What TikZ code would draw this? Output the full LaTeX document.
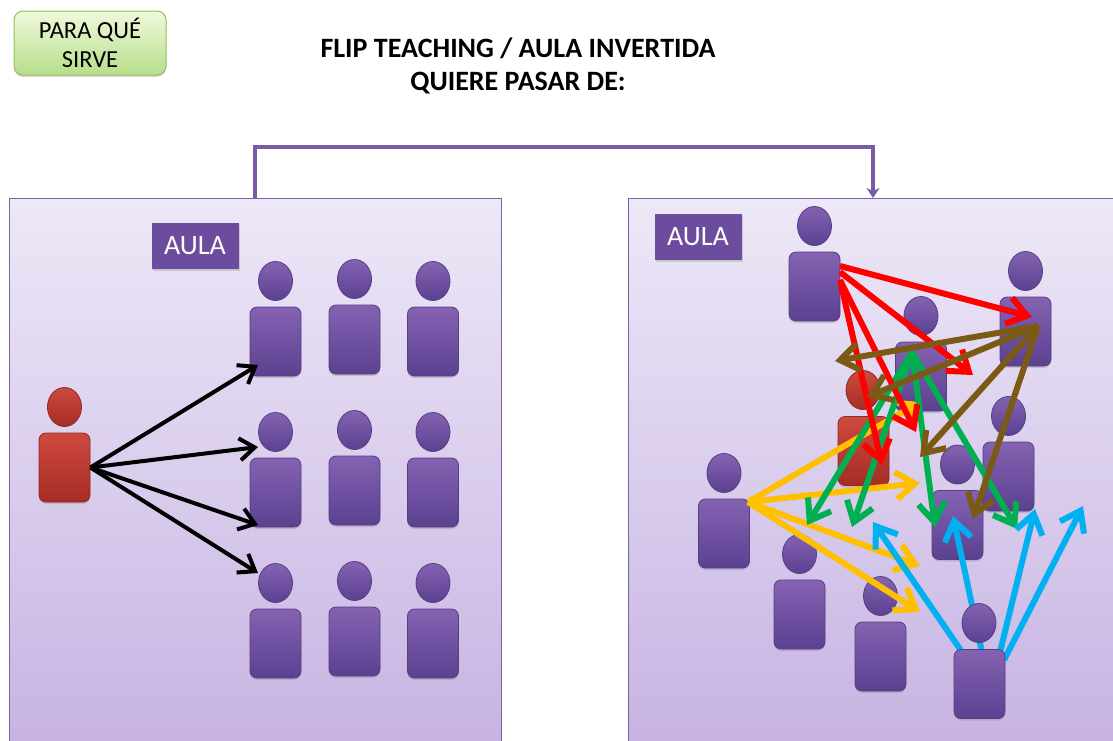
\documentclass[tikz,border=0pt]{standalone}
\usepackage{fontspec}
\setmainfont{Carlito}
\usetikzlibrary{arrows.meta,shadows,shapes.geometric}

\definecolor{panelline}{HTML}{7B62A8}
\definecolor{paneltop}{HTML}{EDE8F7}
\definecolor{panelbottom}{HTML}{C6B2E2}
\definecolor{linkline}{HTML}{7A5CA6}
\definecolor{labelfill}{HTML}{6C4C9C}
\definecolor{greentop}{HTML}{F0F9DC}
\definecolor{greenbottom}{HTML}{B6DE8A}
\definecolor{greenline}{HTML}{98BC5C}
\definecolor{purpletop}{HTML}{8562B2}
\definecolor{purplebottom}{HTML}{5A4190}
\definecolor{purpleline}{HTML}{553F82}
\definecolor{redtop}{HTML}{CE4A3E}
\definecolor{redbottom}{HTML}{A62C26}
\definecolor{redline}{HTML}{8F2A25}
\definecolor{arrowred}{HTML}{FF0000}
\definecolor{arrowbrown}{HTML}{7B5A16}
\definecolor{arrowgreen}{HTML}{00B050}
\definecolor{arroworange}{HTML}{FFC000}
\definecolor{arrowblue}{HTML}{00B0F0}

\tikzset{
  panel/.style={draw=panelline, line width=1pt, top color=paneltop, bottom color=panelbottom,
    minimum width=#1, minimum height=560pt, inner sep=0pt, anchor=north west},
  aula/.style={fill=labelfill, text=white, font=\fontsize{28}{28}\selectfont, minimum width=87pt,
    minimum height=46pt, inner sep=0pt, drop shadow={shadow xshift=1pt, shadow yshift=-2pt, opacity=.3}},
  body/.style={rounded corners=7pt, minimum width=51pt, minimum height=69pt, inner sep=0pt,
    drop shadow={shadow xshift=0pt, shadow yshift=-2pt, opacity=.3}},
  head/.style={ellipse, minimum width=34pt, minimum height=39pt, inner sep=0pt},
  purple guy/.style={draw=purpleline, line width=.8pt, top color=purpletop, bottom color=purplebottom},
  red guy/.style={draw=redline, line width=.8pt, top color=redtop, bottom color=redbottom},
  barb/.style={line width=6pt, -{Straight Barb[length=19pt,width=27pt,line width=6pt]}},
  thin barb/.style={line width=4pt, -{Straight Barb[length=15pt,width=22pt,line width=4pt]}},
}

\begin{document}
\begin{tikzpicture}[x=1pt, y=-1pt, >=stealth]

\clip (0,0) rectangle (1113,740);

\node [panel=492pt] (panel-left) at (9,198) {};
\node [panel=500pt] (panel-right) at (628,198) {};

\node [aula] (aula-left) at (195,246) {AULA};
\node [aula] (aula-right) at (698,237) {AULA};

\node [rounded corners=9pt, draw=greenline, line width=1pt, top color=greentop, bottom color=greenbottom,
  minimum width=152pt, minimum height=64pt, inner sep=0pt, align=center,
  font=\fontsize{24.5}{29}\selectfont, drop shadow={shadow xshift=0pt, shadow yshift=-2pt, opacity=.3}]
  (para-que) at (90,43) {PARA QUÉ\\SIRVE};

\node [align=center, font=\bfseries\fontsize{28}{33}\selectfont] (title) at (518,66)
  {FLIP TEACHING / AULA INVERTIDA\\QUIERE PASAR DE:};

% link between the two rooms
\coordinate (link-from) at (255,198);
\coordinate (link-to) at (873,198);
\draw [linkline, line width=4.5pt, -{Stealth[length=10pt,width=13pt]}]
  (link-from) -- (255,147) -- (873,147) -- (link-to);

% left room
\node [body, red guy] (teacher) at (64.5,467.5) {};
\node [head, red guy] (teacher-head) at (64.5,407) {};

\foreach \m/\x/\y in {1/275.5/341.5, 2/354.5/339.5, 3/433/341.5,
                      4/275.5/492.5, 5/354.5/490.5, 6/433/492.5,
                      7/275.5/643.5, 8/354.5/641.5, 9/433/643.5} {
  \node [body, purple guy] (student-\m) at (\x,\y) {};
  \node [head, purple guy] (student-head-\m) at (\x,\y-60.5) {};
}

\foreach \i/\x/\y in {1/258/365, 2/258/447, 3/258/525, 4/258/573}
  \coordinate (black-\i) at (\x,\y);

\foreach \i in {1,...,4}
  \draw [thin barb] (teacher.east) -- (black-\i);

% right room
\foreach \m/\x/\y in {1/814.5/286.5, 2/1025.5/331.5, 3/921/376.5, 5/1008.5/476.5, 6/957.5/525,
                      7/724/533.5, 8/799.5/614.5, 9/880.5/656.5} {
  \node [body, purple guy] (pupil-\m) at (\x,\y) {};
  \node [head, purple guy] (pupil-head-\m) at (\x,\y-60.5) {};
}
\node [body, red guy] (teacher-right) at (863.5,451) {};
\node [head, red guy] (teacher-right-head) at (863,390) {};

\coordinate (orange-from) at (748,502);
\coordinate (green-from) at (912,352);
\coordinate (brown-from) at (1038,326);

\foreach \i/\x/\y in {1/920/402, 2/920/483, 3/920/566, 4/920/612}
  \draw [barb, arroworange] (orange-from) -- (\x,\y) coordinate (orange-\i);

\foreach \i/\x/\y in {1/807/525, 2/852/527, 3/935/527, 4/1017/529}
  \draw [barb, arrowgreen] (green-from) -- (\x,\y) coordinate (green-\i);

\foreach \i/\sx/\sy/\x/\y in {1/840/266/1032/317, 2/840/272/973/375, 3/840/280/916/432, 4/840/280/882/465}
  \draw [barb, arrowred] (\sx,\sy) coordinate (red-from-\i) -- (\x,\y) coordinate (red-\i);

\foreach \i/\x/\y in {1/835/361, 2/867/397, 3/920/457, 4/973/519}
  \draw [barb, arrowbrown] (brown-from) -- (\x,\y) coordinate (brown-\i);

\foreach \i/\sx/\sy/\x/\y in {1/962/652/873/522, 2/982/652/953/516, 3/1000/652/1035/509, 4/1004/660/1083/506}
  \draw [barb, arrowblue] (\sx,\sy) coordinate (blue-from-\i) -- (\x,\y) coordinate (blue-\i);

\node [body, purple guy] (pupil-10) at (979.5,684) {};
\node [head, purple guy] (pupil-head-10) at (979,623) {};

\end{tikzpicture}
\end{document}
